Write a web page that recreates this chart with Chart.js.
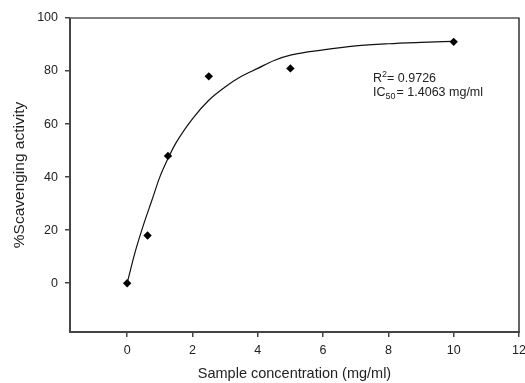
<!DOCTYPE html>
<html>
<head>
<meta charset="utf-8">
<script src="https://cdn.jsdelivr.net/npm/chart.js@4/dist/chart.umd.min.js"></script>
<style>
  html, body { margin: 0; padding: 0; background: #fff; }
  #wrap { width: 525px; height: 383px; }
</style>
</head>
<body>
<div id="wrap"><canvas id="chart"></canvas></div>
<script>
// measured points
const concX = [0, 0.625, 1.25, 2.5, 5, 10];
const scavY = [0, 18, 48, 78, 81, 91];

// fitted curve
const fitX = [0, 0.25, 0.5, 0.75, 1, 1.25, 1.5, 2, 2.5, 3, 3.5, 4, 4.5, 5, 6, 7, 8, 9, 10];
const fitY = [0, 12, 22, 31, 40, 47, 53, 62, 69, 74, 78, 81, 84, 86, 88, 89.5, 90.3, 90.8, 91.2];

const xTicks = [0, 2, 4, 6, 8, 10, 12];
const yTicks = [0, 20, 40, 60, 80, 100];

const noteR2 = "0.9726";
const noteIC50 = "1.4063 mg/ml";

const font = "'Liberation Sans', Arial, sans-serif";
const ink = '#222';

const framePlugin = {
  id: 'frame',
  afterDraw(chart) {
    const { ctx, chartArea: a, scales } = chart;
    ctx.save();
    // top + right thin black
    ctx.strokeStyle = '#000';
    ctx.lineWidth = 1.2;
    ctx.beginPath();
    ctx.moveTo(a.left, a.top);
    ctx.lineTo(a.right, a.top);
    ctx.lineTo(a.right, a.bottom);
    ctx.stroke();
    // left + bottom thicker grey
    ctx.strokeStyle = '#444';
    ctx.lineWidth = 2;
    ctx.beginPath();
    ctx.moveTo(a.left, a.top);
    ctx.lineTo(a.left, a.bottom);
    ctx.lineTo(a.right + 1, a.bottom);
    ctx.stroke();

    // annotation
    const tx = scales.x.getPixelForValue(7.53);
    const ty = scales.y.getPixelForValue(75.8);
    ctx.fillStyle = ink;
    ctx.textBaseline = 'alphabetic';
    ctx.font = "12.5px " + font;
    let w = ctx.measureText('R').width;
    ctx.fillText('R', tx, ty);
    ctx.font = "9px " + font;
    ctx.fillText('2', tx + w, ty - 5);
    ctx.font = "12.5px " + font;
    ctx.fillText('= ' + noteR2, tx + w + 5, ty);

    const ty2 = ty + 13.5;
    ctx.fillText('IC', tx, ty2);
    w = ctx.measureText('IC').width;
    ctx.font = "9px " + font;
    ctx.fillText('50', tx + w, ty2 + 3);
    const w2 = ctx.measureText('50').width;
    ctx.font = "12.5px " + font;
    ctx.fillText('= ' + noteIC50, tx + w + w2 + 1, ty2);
    ctx.restore();
  }
};

new Chart(document.getElementById('chart'), {
  type: 'scatter',
  data: {
    datasets: [{
      label: 'fit',
      type: 'line',
      data: fitX.map((x, i) => ({ x: x, y: fitY[i] })),
      borderColor: '#111',
      borderWidth: 1.2,
      pointRadius: 0,
      tension: 0.4,
      cubicInterpolationMode: 'monotone',
      fill: false
    }, {
      label: 'data',
      data: concX.map((x, i) => ({ x: x, y: scavY[i] })),
      pointStyle: 'rectRot',
      pointRadius: 4.2,
      backgroundColor: '#000',
      borderColor: '#000',
      borderWidth: 0
    }]
  },
  options: {
    responsive: true,
    maintainAspectRatio: false,
    animation: false,
    layout: { padding: { left: 0, right: 6, top: 18, bottom: 0 } },
    plugins: { legend: { display: false }, tooltip: { enabled: false } },
    scales: {
      x: {
        type: 'linear',
        min: -1.75,
        max: 12,
        afterBuildTicks(s) { s.ticks = xTicks.map(v => ({ value: v })); },
        afterFit(s) { s.height = 51; s.paddingRight = 0; s.paddingLeft = 0; },
        border: { display: false },
        grid: { drawOnChartArea: false, drawTicks: true, tickLength: 5, color: '#444', lineWidth: 1.5 },
        ticks: { color: ink, font: { family: font, size: 12.5 }, padding: 6, maxRotation: 0 },
        title: { display: true, text: 'Sample concentration (mg/ml)', color: ink, font: { family: font, size: 14.5 }, padding: { top: 4, bottom: 0 } }
      },
      y: {
        min: -18.4,
        max: 100,
        afterBuildTicks(s) { s.ticks = yTicks.map(v => ({ value: v })); },
        afterFit(s) { s.width = 70; s.paddingTop = 0; s.paddingBottom = 0; },
        border: { display: false },
        grid: { drawOnChartArea: false, drawTicks: true, tickLength: 5, color: '#444', lineWidth: 1.5 },
        ticks: { color: ink, font: { family: font, size: 12.5 }, padding: 7 },
        title: { display: true, text: '%Scavenging activity', color: ink, font: { family: font, size: 15.5 }, padding: { top: 10, bottom: 0 } }
      }
    }
  },
  plugins: [framePlugin]
});
</script>
</body>
</html>
